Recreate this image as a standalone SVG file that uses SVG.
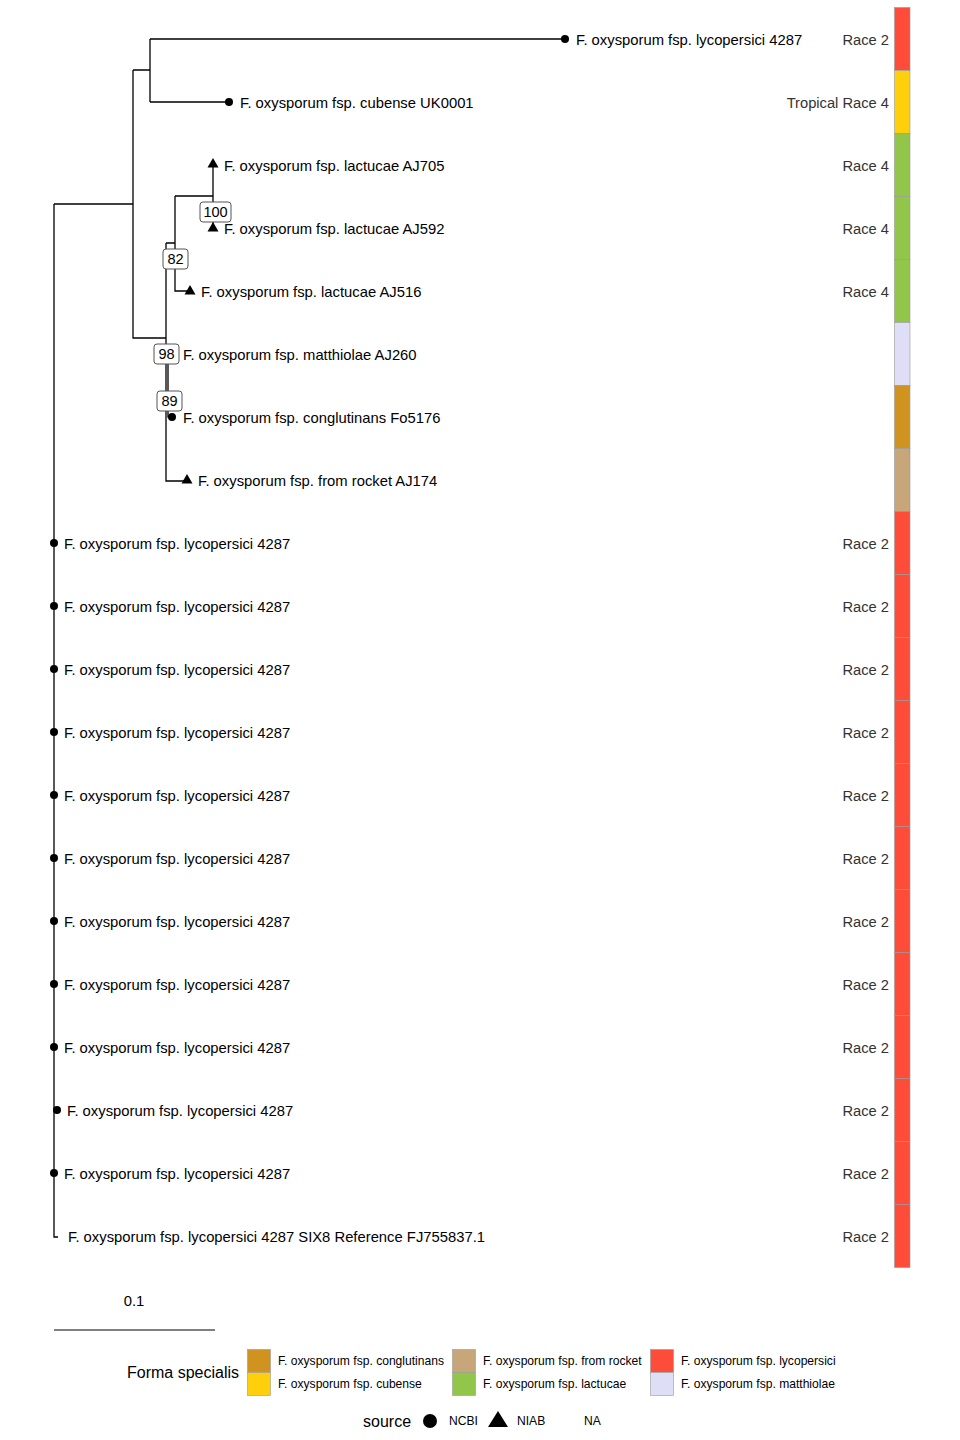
<svg xmlns="http://www.w3.org/2000/svg" width="960" height="1440" viewBox="0 0 960 1440">
<style>
.e{fill:none;stroke:#000;stroke-width:1.3}
.t{font-family:"Liberation Sans",Arial,sans-serif;font-size:14.8px;fill:#000}
.r{font-family:"Liberation Sans",Arial,sans-serif;font-size:14.7px;fill:#333;text-anchor:end}
.bl{fill:#fff;stroke:#555;stroke-width:1}
.bt{font-family:"Liberation Sans",Arial,sans-serif;font-size:14.5px;fill:#000;text-anchor:middle}
.lg{font-family:"Liberation Sans",Arial,sans-serif;font-size:12.1px;fill:#000}
.lt{font-family:"Liberation Sans",Arial,sans-serif;font-size:16px;fill:#000}
.tile{stroke:#999;stroke-width:0.6}
.lyc{fill:#FE4C3A}.cub{fill:#FFCF0C}.lac{fill:#92C64A}.mat{fill:#DEDEF6}.con{fill:#D1931F}.roc{fill:#C7A679}
</style>
<defs>
<circle id="dot" r="4" fill="#000"/>
<path id="tri" d="M0,-6 L5.5,3.5 L-5.5,3.5 Z" fill="#000"/>
</defs>
<rect width="960" height="1440" fill="#fff"/>
<g id="edges">
<path class="e" d="M54,204 V1237 H58"/>
<path class="e" d="M54,204 H133"/>
<path class="e" d="M133,70 V338 H166"/>
<path class="e" d="M133,70 H150 M150,39 V102 M150,39 H565 M150,102 H229"/>
<path class="e" d="M166,243 V481 H186"/>
<path class="e" d="M166,243 H175 M175,196 V291 H188"/>
<path class="e" d="M175,196 H213 M213,164 V228"/>
<path class="e" d="M168,354 V417 H172"/>
</g>
<g id="tip-symbols">
<use href="#dot" x="565" y="39"/>
<use href="#dot" x="229" y="102"/>
<use href="#tri" x="213" y="164"/>
<use href="#tri" x="213" y="228"/>
<use href="#tri" x="190" y="291"/>
<use href="#dot" x="172" y="417"/>
<use href="#tri" x="187" y="480"/>
<use href="#dot" x="54" y="543"/>
<use href="#dot" x="54" y="606"/>
<use href="#dot" x="54" y="669"/>
<use href="#dot" x="54" y="732"/>
<use href="#dot" x="54" y="795"/>
<use href="#dot" x="54" y="858"/>
<use href="#dot" x="54" y="921"/>
<use href="#dot" x="54" y="984"/>
<use href="#dot" x="54" y="1047"/>
<use href="#dot" x="57" y="1110"/>
<use href="#dot" x="54" y="1173"/>
</g>
<g id="tip-labels">
<text class="t" x="576" y="45">F. oxysporum fsp. lycopersici 4287</text>
<text class="t" x="240" y="108">F. oxysporum fsp. cubense UK0001</text>
<text class="t" x="224" y="171">F. oxysporum fsp. lactucae AJ705</text>
<text class="t" x="224" y="234">F. oxysporum fsp. lactucae AJ592</text>
<text class="t" x="201" y="297">F. oxysporum fsp. lactucae AJ516</text>
<text class="t" x="183" y="360">F. oxysporum fsp. matthiolae AJ260</text>
<text class="t" x="183" y="423">F. oxysporum fsp. conglutinans Fo5176</text>
<text class="t" x="198" y="486">F. oxysporum fsp. from rocket AJ174</text>
<text class="t" x="64" y="549">F. oxysporum fsp. lycopersici 4287</text>
<text class="t" x="64" y="612">F. oxysporum fsp. lycopersici 4287</text>
<text class="t" x="64" y="675">F. oxysporum fsp. lycopersici 4287</text>
<text class="t" x="64" y="738">F. oxysporum fsp. lycopersici 4287</text>
<text class="t" x="64" y="801">F. oxysporum fsp. lycopersici 4287</text>
<text class="t" x="64" y="864">F. oxysporum fsp. lycopersici 4287</text>
<text class="t" x="64" y="927">F. oxysporum fsp. lycopersici 4287</text>
<text class="t" x="64" y="990">F. oxysporum fsp. lycopersici 4287</text>
<text class="t" x="64" y="1053">F. oxysporum fsp. lycopersici 4287</text>
<text class="t" x="67" y="1116">F. oxysporum fsp. lycopersici 4287</text>
<text class="t" x="64" y="1179">F. oxysporum fsp. lycopersici 4287</text>
<text class="t" x="68" y="1242">F. oxysporum fsp. lycopersici 4287 SIX8 Reference FJ755837.1</text>
</g>
<g id="bootstrap">
<rect class="bl" x="200" y="202" width="31" height="20" rx="3"/><text class="bt" x="215.5" y="217">100</text>
<rect class="bl" x="163" y="249" width="25" height="20" rx="3"/><text class="bt" x="175.5" y="264">82</text>
<rect class="bl" x="154" y="344" width="25" height="20" rx="3"/><text class="bt" x="166.5" y="359">98</text>
<rect class="bl" x="157" y="391" width="25" height="20" rx="3"/><text class="bt" x="169.5" y="406">89</text>
</g>
<g id="race-labels">
<text class="r" x="889" y="45">Race 2</text>
<text class="r" x="889" y="108">Tropical Race 4</text>
<text class="r" x="889" y="171">Race 4</text>
<text class="r" x="889" y="234">Race 4</text>
<text class="r" x="889" y="297">Race 4</text>
<text class="r" x="889" y="549">Race 2</text>
<text class="r" x="889" y="612">Race 2</text>
<text class="r" x="889" y="675">Race 2</text>
<text class="r" x="889" y="738">Race 2</text>
<text class="r" x="889" y="801">Race 2</text>
<text class="r" x="889" y="864">Race 2</text>
<text class="r" x="889" y="927">Race 2</text>
<text class="r" x="889" y="990">Race 2</text>
<text class="r" x="889" y="1053">Race 2</text>
<text class="r" x="889" y="1116">Race 2</text>
<text class="r" x="889" y="1179">Race 2</text>
<text class="r" x="889" y="1242">Race 2</text>
</g>
<g id="heatmap">
<rect class="tile lyc" x="894.5" y="7.5" width="15.5" height="63"/>
<rect class="tile cub" x="894.5" y="70.5" width="15.5" height="63"/>
<rect class="tile lac" x="894.5" y="133.5" width="15.5" height="63"/>
<rect class="tile lac" x="894.5" y="196.5" width="15.5" height="63"/>
<rect class="tile lac" x="894.5" y="259.5" width="15.5" height="63"/>
<rect class="tile mat" x="894.5" y="322.5" width="15.5" height="63"/>
<rect class="tile con" x="894.5" y="385.5" width="15.5" height="63"/>
<rect class="tile roc" x="894.5" y="448.5" width="15.5" height="63"/>
<rect class="tile lyc" x="894.5" y="511.5" width="15.5" height="63"/>
<rect class="tile lyc" x="894.5" y="574.5" width="15.5" height="63"/>
<rect class="tile lyc" x="894.5" y="637.5" width="15.5" height="63"/>
<rect class="tile lyc" x="894.5" y="700.5" width="15.5" height="63"/>
<rect class="tile lyc" x="894.5" y="763.5" width="15.5" height="63"/>
<rect class="tile lyc" x="894.5" y="826.5" width="15.5" height="63"/>
<rect class="tile lyc" x="894.5" y="889.5" width="15.5" height="63"/>
<rect class="tile lyc" x="894.5" y="952.5" width="15.5" height="63"/>
<rect class="tile lyc" x="894.5" y="1015.5" width="15.5" height="63"/>
<rect class="tile lyc" x="894.5" y="1078.5" width="15.5" height="63"/>
<rect class="tile lyc" x="894.5" y="1141.5" width="15.5" height="63"/>
<rect class="tile lyc" x="894.5" y="1204.5" width="15.5" height="63"/>
</g>
<g id="scale-bar">
<text class="t" x="134" y="1306" text-anchor="middle">0.1</text>
<line x1="54" y1="1330" x2="215" y2="1330" stroke="#000" stroke-width="1"/>
</g>
<g id="legend-forma">
<text class="lt" x="127" y="1378">Forma specialis</text>
<rect class="tile con" x="247.5" y="1349.5" width="23" height="23"/>
<rect class="tile cub" x="247.5" y="1372.5" width="23" height="23"/>
<rect class="tile roc" x="452.5" y="1349.5" width="23" height="23"/>
<rect class="tile lac" x="452.5" y="1372.5" width="23" height="23"/>
<rect class="tile lyc" x="650.5" y="1349.5" width="23" height="23"/>
<rect class="tile mat" x="650.5" y="1372.5" width="23" height="23"/>
<text class="lg" x="278" y="1365">F. oxysporum fsp. conglutinans</text>
<text class="lg" x="278" y="1388">F. oxysporum fsp. cubense</text>
<text class="lg" x="483" y="1365">F. oxysporum fsp. from rocket</text>
<text class="lg" x="483" y="1388">F. oxysporum fsp. lactucae</text>
<text class="lg" x="681" y="1365">F. oxysporum fsp. lycopersici</text>
<text class="lg" x="681" y="1388">F. oxysporum fsp. matthiolae</text>
</g>
<g id="legend-source">
<text class="lt" x="363" y="1427">source</text>
<circle cx="430" cy="1421" r="7" fill="#000"/>
<text class="lg" x="449" y="1425">NCBI</text>
<path d="M498,1411 L508,1427 L488,1427 Z" fill="#000"/>
<text class="lg" x="517" y="1425">NIAB</text>
<text class="lg" x="584" y="1425">NA</text>
</g>
</svg>
